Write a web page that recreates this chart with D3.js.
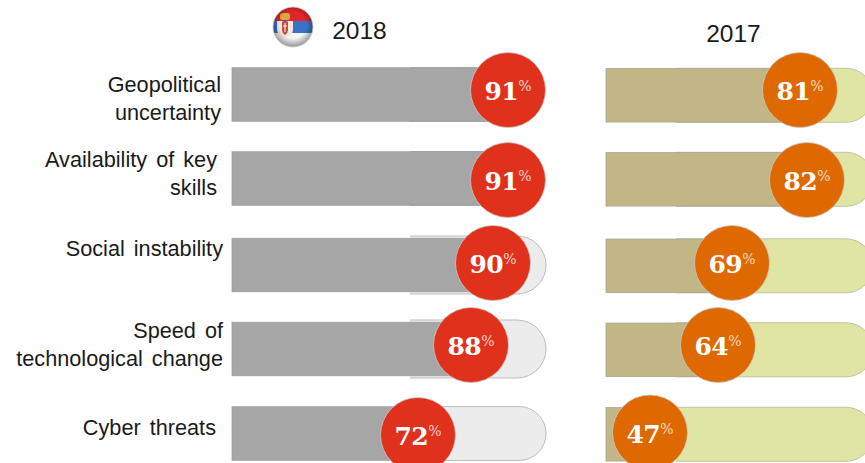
<!DOCTYPE html>
<html>
<head>
<meta charset="utf-8">
<script src="https://cdn.jsdelivr.net/npm/d3@7"></script>
<style>
  html, body { margin: 0; padding: 0; background: #fff; }
  svg { display: block; }
</style>
</head>
<body>
<svg id="chart" width="865" height="463"></svg>
<script>
// Risk labels, one or two lines each
const categories = [
  ["Geopolitical", "uncertainty"],
  ["Availability of key", "skills"],
  ["Social instability"],
  ["Speed of", "technological change"],
  ["Cyber threats"]
];
const values2018 = [91, 91, 90, 88, 72];
const values2017 = [81, 82, 69, 64, 47];
const panelYears = ["2018", "2017"];

const svg = d3.select("#chart");

// Vertical placement of the hand-laid rows
const barCenters = [94.5, 178.5, 265, 349, 433.5];
const bubbleCenters = [90, 180, 263, 345, 435];
const bubbleCenters2017 = [90, 180, 263, 345, 432.5];

// The infographic does not space its bubbles evenly, hence the stepped scales
const x2018 = d3.scaleLinear().domain([72, 88, 90, 91]).range([418, 471, 493, 508]);
const x2017 = d3.scaleLinear().domain([47, 64, 69, 81, 82]).range([650, 718, 732, 800, 807]);

const panels = [
  { values: values2018, x: x2018, left: 232, trackLeft: 410, rights: [538, 538, 546, 546, 546], dy: 0,
    trackHeights: [54, 54, 58, 58, 54], bubbleY: bubbleCenters,
    track: "#ececec", trackStroke: "#bdbdbd",
    fill: "#a6a6a6", fillStroke: "#9c9c9c", bubble: "#e0311d", pct: "#f7d5cb" },
  { values: values2017, x: x2017, left: 606, trackLeft: 676, rights: [873, 873, 873, 873, 873], dy: 0.8,
    trackHeights: [54, 54, 54, 54, 54], bubbleY: bubbleCenters2017,
    track: "#e1e5a3", trackStroke: "#c2c2a6",
    fill: "#c2b687", fillStroke: "#a9a692", bubble: "#dd6900", pct: "#f7dcc0" }
];

const barH = 53.5, bubbleR = 37.5;

// Bar with a square left end and a fully rounded right end
function trackPath(x0, x1, cy, h) {
  const r = h / 2;
  const p = d3.path();
  p.moveTo(x0, cy - r);
  p.lineTo(x1 - r, cy - r);
  p.arc(x1 - r, cy, r, -Math.PI / 2, Math.PI / 2);
  p.lineTo(x0, cy + r);
  return p.toString();
}

panels.forEach(panel => {
  const rows = svg.append("g").selectAll("g")
    .data(panel.values)
    .join("g");

  rows.append("path")
    .attr("d", (d, i) => trackPath(panel.trackLeft, panel.rights[i], barCenters[i] + panel.dy, panel.trackHeights[i]))
    .attr("fill", panel.track)
    .attr("stroke", panel.trackStroke)
    .attr("stroke-width", 1);

  rows.append("rect")
    .attr("x", panel.left)
    .attr("y", (d, i) => barCenters[i] + panel.dy - barH / 2)
    .attr("width", d => panel.x(d) - panel.left)
    .attr("height", barH)
    .attr("fill", panel.fill)
    .attr("stroke", panel.fillStroke)
    .attr("stroke-width", 0.8);

  rows.append("circle")
    .attr("cx", d => panel.x(d))
    .attr("cy", (d, i) => panel.bubbleY[i])
    .attr("r", bubbleR)
    .attr("fill", panel.bubble)
    .attr("stroke", "#c9c9c9")
    .attr("stroke-width", 0.8);

  const label = rows.append("text")
    .attr("x", d => panel.x(d))
    .attr("y", (d, i) => panel.bubbleY[i] + 10)
    .attr("text-anchor", "middle")
    .attr("fill", "#fff")
    .attr("font-family", "'DejaVu Serif', serif");
  label.append("tspan")
    .attr("font-size", 25)
    .attr("font-weight", 700)
    .attr("letter-spacing", -0.5)
    .text(d => d);
  label.append("tspan")
    .attr("font-size", 14)
    .attr("dy", -9)
    .attr("fill", panel.pct)
    .text("%");
});

// Category labels, right aligned against the bars
const labelRight = [221, 217, 223, 223, 216];
const labelBaseline = [92, 167, 256, 338, 435];
svg.append("g").selectAll("text")
  .data(categories)
  .join("text")
  .attr("text-anchor", "end")
  .attr("fill", "#1a1a1a")
  .attr("font-family", "'Liberation Sans', Arial, sans-serif")
  .attr("font-size", 21.7)
  .attr("word-spacing", 3)
  .each(function (lines, i) {
    d3.select(this).selectAll("tspan")
      .data(lines)
      .join("tspan")
      .attr("x", labelRight[i])
      .attr("y", (d, j) => labelBaseline[i] + j * 27.5)
      .text(d => d);
  });

// Panel years
svg.selectAll("text.year")
  .data(panelYears)
  .join("text")
  .attr("class", "year")
  .attr("x", (d, i) => [359.5, 733.5][i])
  .attr("y", (d, i) => [39, 42][i])
  .attr("text-anchor", "middle")
  .attr("fill", "#1a1a1a")
  .attr("font-family", "'Liberation Sans', Arial, sans-serif")
  .attr("font-size", 24.5)
  .text(d => d);

// Round Serbian flag badge beside the 2018 heading
const flagCx = 293, flagCy = 27, flagR = 20;
const defs = svg.append("defs");
defs.append("clipPath").attr("id", "flagClip")
  .append("circle").attr("cx", flagCx).attr("cy", flagCy).attr("r", flagR);
const sphere = defs.append("radialGradient").attr("id", "flagShade")
  .attr("cx", "50%").attr("cy", "45%").attr("r", "55%");
sphere.append("stop").attr("offset", "60%").attr("stop-color", "#000").attr("stop-opacity", 0);
sphere.append("stop").attr("offset", "100%").attr("stop-color", "#000").attr("stop-opacity", 0.4);
defs.append("filter").attr("id", "flagSoft")
  .append("feGaussianBlur").attr("stdDeviation", 0.6);

const flag = svg.append("g").attr("clip-path", "url(#flagClip)");
const inner = flag.append("g").attr("filter", "url(#flagSoft)");
const stripes = [
  { color: "#e0262b", y0: 5, y1: 21 },
  { color: "#3a73c4", y0: 21, y1: 33 },
  { color: "#f6f6f6", y0: 33, y1: 49 }
];
inner.selectAll("rect.stripe")
  .data(stripes)
  .join("rect")
  .attr("class", "stripe")
  .attr("x", flagCx - flagR - 2)
  .attr("width", 2 * flagR + 4)
  .attr("y", d => d.y0)
  .attr("height", d => d.y1 - d.y0)
  .attr("fill", d => d.color);
// Coat of arms: crown, shield and cross
inner.append("rect")
  .attr("x", 280).attr("y", 13).attr("width", 10).attr("height", 7)
  .attr("rx", 2.5).attr("fill", "#d8a93e");
inner.append("path")
  .attr("d", "M277,21 h5 l3,2 l3,-2 h5 v8 q0,4 -3,6 l-5,3 l-5,-3 q-3,-2 -3,-6 z")
  .attr("fill", "#f3e9e0");
inner.append("path")
  .attr("d", "M282,22 h6 v8 q0,3 -3,5 q-3,-2 -3,-5 z")
  .attr("fill", "#c6473c");
inner.append("path")
  .attr("d", "M285,23 v9 M283,26 h4")
  .attr("stroke", "#f6f0ea").attr("stroke-width", 1.1).attr("fill", "none");
flag.append("circle")
  .attr("cx", flagCx).attr("cy", flagCy).attr("r", flagR)
  .attr("fill", "url(#flagShade)");
svg.append("circle")
  .attr("cx", flagCx).attr("cy", flagCy).attr("r", flagR)
  .attr("fill", "none").attr("stroke", "#c4c4c4").attr("stroke-width", 0.8);
</script>
</body>
</html>
